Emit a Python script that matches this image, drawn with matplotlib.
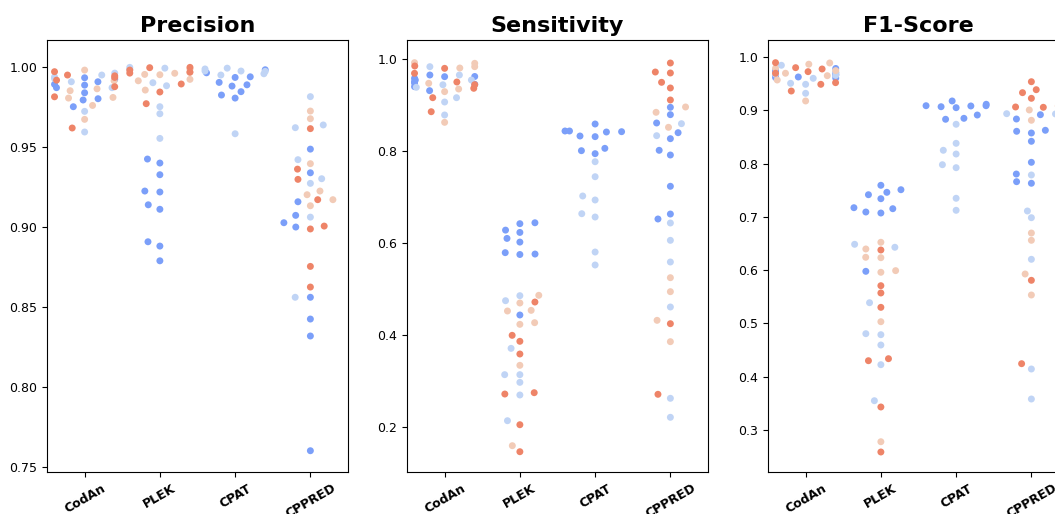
import matplotlib
matplotlib.use("Agg")
import matplotlib.pyplot as plt
import seaborn as sns
import pandas as pd

tools = ["CodAn", "PLEK", "CPAT", "CPPRED"]
groups = ["g1", "g2", "g3", "g4"]

# Precision
prec_codan_g1 = [0.9925, 0.9889, 0.9841, 0.9804, 0.9754, 0.9796, 0.9873, 0.9894, 0.9910, 0.9935]
prec_codan_g2 = [0.9964, 0.9910, 0.9725, 0.9596, 0.9952, 0.9873, 0.9930, 0.9940]
prec_codan_g3 = [0.9812, 0.9916, 0.9866, 0.9854, 0.9675, 0.9983, 0.9808, 0.9762]
prec_codan_g4 = [0.9952, 0.9879, 0.9973, 0.9621, 0.9920, 0.9937, 0.9816, 0.9947]
prec_plek_g1 = [0.9427, 0.9402, 0.9329, 0.9227, 0.9221, 0.9141, 0.9113, 0.8910, 0.8883, 0.8791]
prec_plek_g2 = [0.9988, 0.9904, 0.9885, 0.9754, 0.9710, 0.9556, 1.0000, 0.9995]
prec_plek_g3 = [0.9969, 0.9925, 0.9916, 0.9954, 0.9956, 0.9858, 0.9963, 0.9990]
prec_plek_g4 = [1.0000, 0.9964, 0.9998, 0.9846, 0.9773, 0.9896, 0.9983, 0.9970]
prec_cpat_g1 = [0.9985, 0.9941, 0.9937, 0.9966, 0.9891, 0.9883, 0.9906, 0.9827, 0.9808, 0.9848]
prec_cpat_g2 = [0.9977, 0.9977, 0.9952, 0.9990, 0.9585, 0.9995, 0.9975, 0.9960]
prec_cppred_g1 = [0.9489, 0.9341, 0.9160, 0.9075, 0.9029, 0.9002, 0.8563, 0.8427, 0.8321, 0.7604]
prec_cppred_g2 = [0.9817, 0.9623, 0.9640, 0.9423, 0.9275, 0.9304, 0.9064, 0.8563]
prec_cppred_g3 = [0.9727, 0.9679, 0.9398, 0.9204, 0.9227, 0.9173, 0.9135]
prec_cppred_g4 = [0.9617, 0.9364, 0.9300, 0.9173, 0.8990, 0.9008, 0.8756, 0.8627]

# Sensitivity
sens_codan_g1 = [0.9652, 0.9580, 0.9507, 0.9543, 0.9616, 0.9399, 0.9450, 0.9312, 0.9620, 0.9480]
sens_codan_g2 = [0.9833, 0.9543, 0.9652, 0.9385, 0.9065, 0.9159, 0.8783, 0.9440]
sens_codan_g3 = [0.9906, 0.9833, 0.9804, 0.9920, 0.9472, 0.9348, 0.9290, 0.8623]
sens_codan_g4 = [0.9797, 0.9689, 0.9848, 0.9363, 0.9442, 0.9159, 0.8854, 0.9500]
sens_plek_g1 = [0.642, 0.644, 0.628, 0.623, 0.610, 0.602, 0.576, 0.575, 0.579, 0.4435]
sens_plek_g2 = [0.4855, 0.4746, 0.3710, 0.3138, 0.3138, 0.2971, 0.2696, 0.2137]
sens_plek_g3 = [0.4863, 0.4696, 0.4522, 0.4536, 0.4268, 0.4232, 0.3341, 0.1594]
sens_plek_g4 = [0.4717, 0.3993, 0.3863, 0.3587, 0.2717, 0.2746, 0.2050, 0.1463]
sens_cpat_g1 = [0.8435, 0.8435, 0.8587, 0.8326, 0.8312, 0.8413, 0.8420, 0.8058, 0.7942, 0.8007]
sens_cpat_g2 = [0.7767, 0.7441, 0.7022, 0.6935, 0.6637, 0.6565, 0.5804, 0.5522]
sens_cppred_g1 = [0.895, 0.879, 0.8609, 0.8398, 0.8268, 0.8015, 0.7913, 0.7233, 0.663, 0.6522]
sens_cppred_g2 = [0.8594, 0.8333, 0.6435, 0.6058, 0.5587, 0.4609, 0.2624, 0.2211]
sens_cppred_g3 = [0.8957, 0.8841, 0.8515, 0.5246, 0.4942, 0.4319, 0.3855]
sens_cppred_g4 = [0.9913, 0.9717, 0.9696, 0.9493, 0.937, 0.9109, 0.4246, 0.2711]

# F1-Score
f1_codan_g1 = [0.9667, 0.9667, 0.963, 0.9711, 0.979, 0.971, 0.961, 0.975, 0.968, 0.962]
f1_codan_g2 = [0.9605, 0.9492, 0.9323, 0.985, 0.9511, 0.966, 0.972, 0.968]
f1_codan_g3 = [0.9893, 0.9793, 0.9179, 0.9654, 0.987, 0.9573, 0.975, 0.970]
f1_codan_g4 = [0.973, 0.9523, 0.9805, 0.978, 0.9492, 0.9366, 0.9899, 0.970]
f1_plek_g1 = [0.7594, 0.7417, 0.7462, 0.7511, 0.7342, 0.7173, 0.7092, 0.7073, 0.7154, 0.5977]
f1_plek_g2 = [0.6429, 0.6485, 0.5387, 0.4805, 0.4786, 0.4592, 0.4222, 0.3545]
f1_plek_g3 = [0.6523, 0.6241, 0.6233, 0.6397, 0.5959, 0.599, 0.503, 0.2774]
f1_plek_g4 = [0.6378, 0.5707, 0.557, 0.53, 0.4297, 0.4335, 0.3427, 0.2581]
f1_cpat_g1 = [0.9179, 0.909, 0.9071, 0.9053, 0.9085, 0.9117, 0.909, 0.8835, 0.8853, 0.8915]
f1_cpat_g2 = [0.8741, 0.8252, 0.8383, 0.8182, 0.7981, 0.7925, 0.735, 0.7124]
f1_cppred_g1 = [0.8921, 0.884, 0.8609, 0.8577, 0.8628, 0.8421, 0.8026, 0.7806, 0.7662, 0.7632]
f1_cppred_g2 = [0.894, 0.7788, 0.7111, 0.6985, 0.8935, 0.6203, 0.4141, 0.3577]
f1_cppred_g3 = [0.9085, 0.901, 0.8816, 0.6697, 0.656, 0.5927, 0.5532]
f1_cppred_g4 = [0.9541, 0.9391, 0.9335, 0.9229, 0.906, 0.9066, 0.5808, 0.4241]


def to_frame(parts):
    rows = []
    for tool, group, vals in parts:
        for v in vals:
            rows.append((tool, group, v))
    return pd.DataFrame(rows, columns=["tool", "group", "value"])


prec = to_frame([
    ("CodAn", "g1", prec_codan_g1), ("CodAn", "g2", prec_codan_g2),
    ("CodAn", "g3", prec_codan_g3), ("CodAn", "g4", prec_codan_g4),
    ("PLEK", "g1", prec_plek_g1), ("PLEK", "g2", prec_plek_g2),
    ("PLEK", "g3", prec_plek_g3), ("PLEK", "g4", prec_plek_g4),
    ("CPAT", "g1", prec_cpat_g1), ("CPAT", "g2", prec_cpat_g2),
    ("CPPRED", "g1", prec_cppred_g1), ("CPPRED", "g2", prec_cppred_g2),
    ("CPPRED", "g3", prec_cppred_g3), ("CPPRED", "g4", prec_cppred_g4),
])
sens = to_frame([
    ("CodAn", "g1", sens_codan_g1), ("CodAn", "g2", sens_codan_g2),
    ("CodAn", "g3", sens_codan_g3), ("CodAn", "g4", sens_codan_g4),
    ("PLEK", "g1", sens_plek_g1), ("PLEK", "g2", sens_plek_g2),
    ("PLEK", "g3", sens_plek_g3), ("PLEK", "g4", sens_plek_g4),
    ("CPAT", "g1", sens_cpat_g1), ("CPAT", "g2", sens_cpat_g2),
    ("CPPRED", "g1", sens_cppred_g1), ("CPPRED", "g2", sens_cppred_g2),
    ("CPPRED", "g3", sens_cppred_g3), ("CPPRED", "g4", sens_cppred_g4),
])
f1 = to_frame([
    ("CodAn", "g1", f1_codan_g1), ("CodAn", "g2", f1_codan_g2),
    ("CodAn", "g3", f1_codan_g3), ("CodAn", "g4", f1_codan_g4),
    ("PLEK", "g1", f1_plek_g1), ("PLEK", "g2", f1_plek_g2),
    ("PLEK", "g3", f1_plek_g3), ("PLEK", "g4", f1_plek_g4),
    ("CPAT", "g1", f1_cpat_g1), ("CPAT", "g2", f1_cpat_g2),
    ("CPPRED", "g1", f1_cppred_g1), ("CPPRED", "g2", f1_cppred_g2),
    ("CPPRED", "g3", f1_cppred_g3), ("CPPRED", "g4", f1_cppred_g4),
])

# the original swarm was laid out on a narrower canvas and then stretched,
# so compute it narrow first, freeze the offsets, then widen
W, H = 10.55, 5.14
squeeze = 0.48
fig = plt.figure(figsize=(W * squeeze, H), dpi=100)
lefts = [47, 407, 768]
panels = [(prec, "Precision", (0.7471, 1.0171)),
          (sens, "Sensitivity", (0.1022, 1.0413)),
          (f1, "F1-Score", (0.2205, 1.0325))]

for left, (df, title, ylim) in zip(lefts, panels):
    ax = fig.add_axes([left / 1055, 42 / 514, 301 / 1055, 432 / 514])
    sns.swarmplot(data=df, x="tool", y="value", hue="group", order=tools,
                  hue_order=groups, palette="coolwarm", size=5, ax=ax,
                  legend=False)
    ax.set_ylim(*ylim)
    ax.set_title(title, fontsize=16, fontweight="bold")
    ax.set_xlabel("")
    ax.set_ylabel("")
    ax.tick_params(axis="y", labelsize=9)
    for lab in ax.get_xticklabels():
        lab.set_rotation(30)
        lab.set_fontweight("bold")
        lab.set_fontsize(9)

fig.canvas.draw()
for ax in fig.axes:
    for coll in ax.collections:
        if "draw" in coll.__dict__:
            del coll.draw  # keep the offsets computed above
fig.set_size_inches(W, H)

fig.savefig("out.png", dpi=100)
